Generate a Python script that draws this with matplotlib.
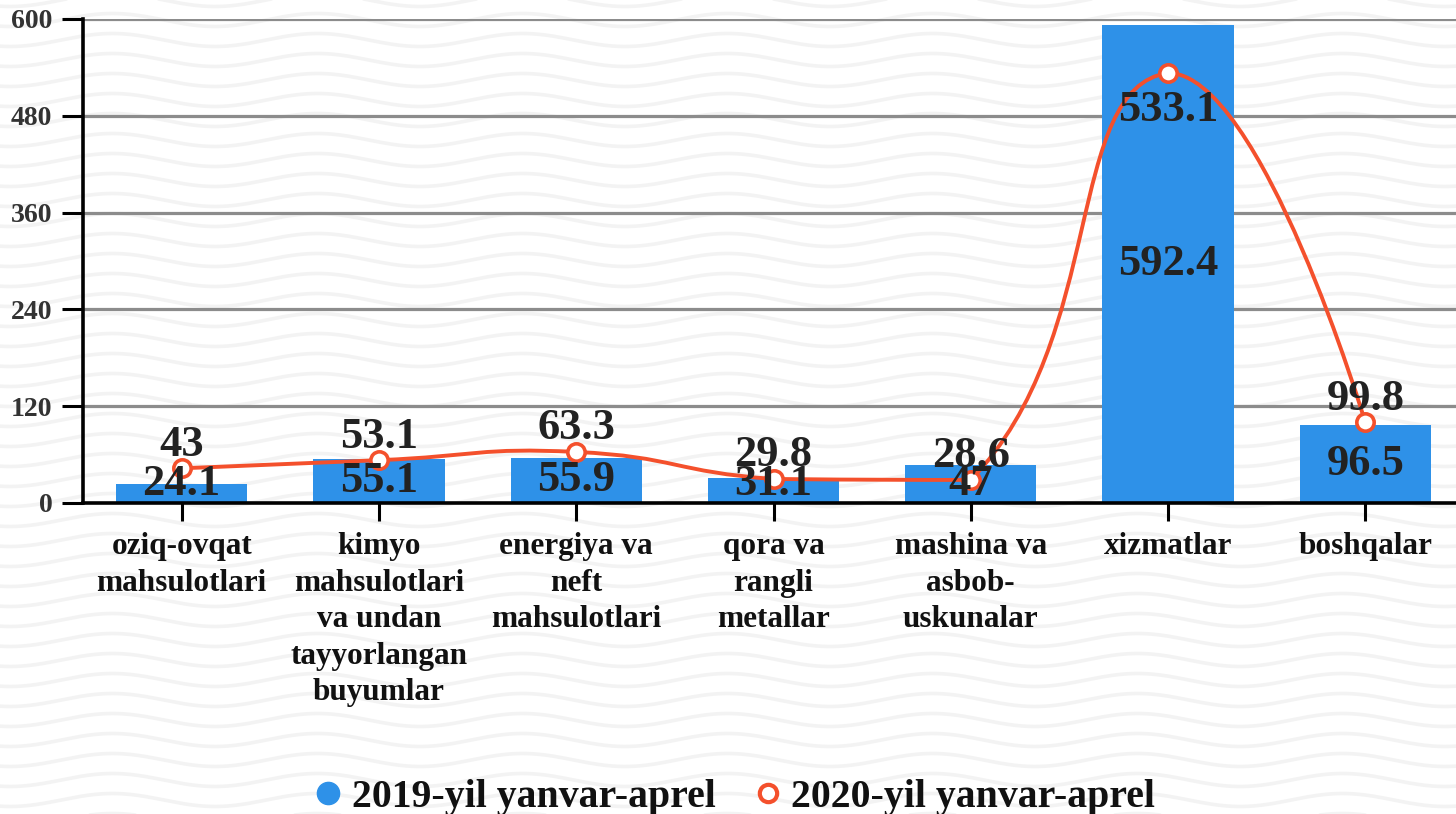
import numpy as np
import matplotlib
matplotlib.use("Agg")
import matplotlib.pyplot as plt
from matplotlib.path import Path
from matplotlib.patches import PathPatch
from matplotlib.lines import Line2D

categories = ["oziq-ovqat\nmahsulotlari",
              "kimyo\nmahsulotlari\nva undan\ntayyorlangan\nbuyumlar",
              "energiya va\nneft\nmahsulotlari",
              "qora va\nrangli\nmetallar",
              "mashina va\nasbob-\nuskunalar",
              "xizmatlar",
              "boshqalar"]
values_2019 = [24.1, 55.1, 55.9, 31.1, 47, 592.4, 96.5]
values_2020 = [43, 53.1, 63.3, 29.8, 28.6, 533.1, 99.8]
series_names = ["2019-yil yanvar-aprel", "2020-yil yanvar-aprel"]
y_ticks = [0, 120, 240, 360, 480, 600]

BAR_C = "#2E91E8"
LINE_C = "#F4502C"
SERIF = ["Liberation Serif", "DejaVu Serif"]

W, H = 1456, 814
fig = plt.figure(figsize=(W / 100, H / 100), dpi=100)
fig.patch.set_facecolor("white")

# wavy background
bg = fig.add_axes([0, 0, 1, 1], zorder=-10)
bg.set_xlim(0, W)
bg.set_ylim(H, 0)
bg.axis("off")
xs = np.linspace(0, W, 800)
for base in np.arange(-20, H + 30, 20):
    bg.plot(xs, base + 6.5 * np.cos(2 * np.pi * (xs - 10) / 205), color="#f3f3f3",
            lw=2.6, solid_capstyle="round")

left, right, top, bottom = 83, 1464, 19, 503
ax = fig.add_axes([left / W, (H - bottom) / H, (right - left) / W, (bottom - top) / H])
ax.set_facecolor("none")
x = np.arange(len(categories))
ax.set_xlim(-0.5, len(categories) - 0.5)
ax.set_ylim(0, 600)

ax.bar(x, values_2019, width=0.665, color=BAR_C, zorder=2)

# grid
ax.set_yticks(y_ticks)
for t in y_ticks[1:]:
    ax.axhline(t, color="#8c8c8c", lw=2.3, zorder=1)

for s in ["top", "right"]:
    ax.spines[s].set_visible(False)
for s in ["left", "bottom"]:
    ax.spines[s].set_linewidth(2.6)
    ax.spines[s].set_color("black")
    ax.spines[s].set_zorder(3)

ax.tick_params(axis="y", length=15, width=2.2, pad=7, colors="black", labelcolor="#333333")
ax.tick_params(axis="x", length=13, width=2.2, pad=8, colors="black", labelcolor="#111111")
ax.set_yticklabels([str(t) for t in y_ticks], fontsize=20, fontweight="bold", family=SERIF)
ax.set_xticks(x)
ax.set_xticklabels(categories, fontsize=22.5, fontweight="bold", family=SERIF, linespacing=1.34,
                   va="top")

# smooth line (bezier with neighbour tangents, clamped to the points' bounding box)
pts = ax.transData.transform(np.column_stack([x, values_2020]))
smooth = 0.5
bmin = pts.min(axis=0)
bmax = pts.max(axis=0)
n = len(pts)
cp_in = [None] * n
cp_out = [None] * n
cp_out[0] = pts[0].copy()
cp_in[-1] = pts[-1].copy()
for i in range(1, n - 1):
    p = pts[i]
    v = pts[i + 1] - pts[i - 1]
    lp = np.hypot(*(p - pts[i - 1]))
    ln = np.hypot(*(pts[i + 1] - p))
    r = ln / (ln + lp)
    cp_in[i] = np.clip(p - v * smooth * (1 - r), bmin, bmax)
    cp_out[i] = np.clip(p + v * smooth * r, bmin, bmax)
verts = [tuple(pts[0])]
codes = [Path.MOVETO]
for i in range(1, n):
    verts += [tuple(cp_out[i - 1]), tuple(cp_in[i]), tuple(pts[i])]
    codes += [Path.CURVE4] * 3
data_verts = ax.transData.inverted().transform(np.array(verts))
ax.add_patch(PathPatch(Path(data_verts, codes), facecolor="none", edgecolor=LINE_C,
                       lw=2.8, zorder=4, clip_on=False))
ax.plot(x, values_2020, ls="none", marker="o", ms=12.5, mfc="white", mec=LINE_C, mew=2.6,
        zorder=5, clip_on=False)

# labels
lab_kw = dict(fontsize=32, fontweight="bold", family=SERIF, color="#222222", zorder=6,
              ha="center", va="center")
for xi, v in zip(x, values_2019):
    ax.text(xi, max(v / 2, 23.5), f"{v:g}", **lab_kw)
for xi, v in zip(x, values_2020):
    off = -27 if v > 500 else 17
    ax.annotate(f"{v:g}", (xi, v), xytext=(0, off), textcoords="offset points",
                annotation_clip=False, **lab_kw)

# legend
handles = [Line2D([], [], ls="none", marker="o", ms=16, mfc=BAR_C, mec=BAR_C),
           Line2D([], [], ls="none", marker="o", ms=12.5, mfc="white", mec=LINE_C, mew=3)]
leg = fig.legend(handles, series_names, loc="center", bbox_to_anchor=(0.504, 1 - 797 / H),
                 ncol=2, frameon=False, handlelength=0.8, handletextpad=0.2, columnspacing=0.9,
                 prop=dict(family=SERIF, weight="bold", size=28.6))
for t in leg.get_texts():
    t.set_color("#111111")

fig.savefig("out.png", dpi=100, facecolor="white")
